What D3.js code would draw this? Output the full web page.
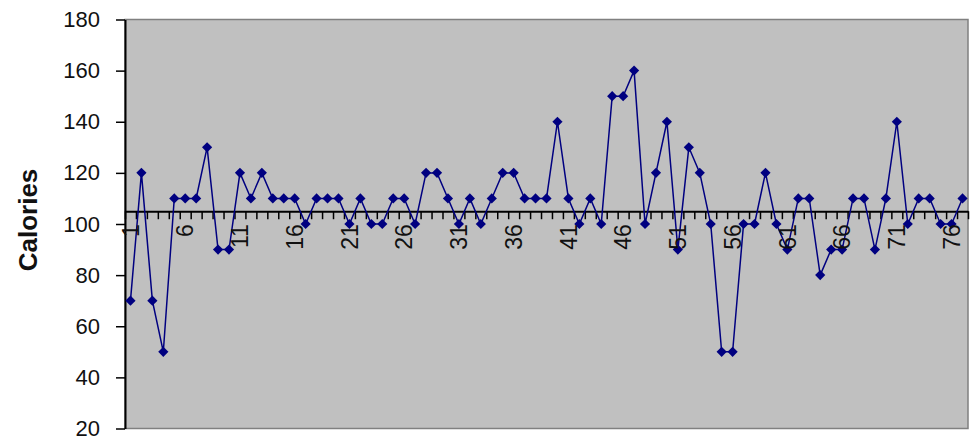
<!DOCTYPE html>
<html>
<head>
<meta charset="utf-8">
<script src="https://cdn.jsdelivr.net/npm/d3@7"></script>
<style>
  html, body { margin: 0; padding: 0; background: #ffffff; }
  svg { display: block; }
  text { font-family: "Liberation Sans", Arial, sans-serif; }
</style>
</head>
<body>
<svg id="chart" width="975" height="442"></svg>
<script>
// ---- data ----
const categories = d3.range(1, 78);
const calories = [
  70, 120, 70, 50, 110, 110, 110, 130, 90, 90,
  120, 110, 120, 110, 110, 110, 100, 110, 110, 110,
  100, 110, 100, 100, 110, 110, 100, 120, 120, 110,
  100, 110, 100, 110, 120, 120, 110, 110, 110, 140,
  110, 100, 110, 100, 150, 150, 160, 100, 120, 140,
  90, 130, 120, 100, 50, 50, 100, 100, 120, 100,
  90, 110, 110, 80, 90, 90, 110, 110, 90, 110,
  140, 100, 110, 110, 100, 100, 110
];
const xTickLabels = [1, 6, 11, 16, 21, 26, 31, 36, 41, 46, 51, 56, 61, 66, 71, 76];
const yTickLabels = [20, 40, 60, 80, 100, 120, 140, 160, 180];
const yDomain = [20, 180];
const axisCrossValue = 105;
const yTitle = "Calories";

// ---- layout ----
const svg = d3.select("#chart");
const plot = { left: 125, right: 968, top: 19.5, bottom: 428.5 };

const x = d3.scaleBand().domain(categories).range([plot.left, plot.right]).paddingInner(0).paddingOuter(0);
const xEdge = d3.scaleLinear().domain([0, categories.length]).range([plot.left, plot.right]);
const y = d3.scaleLinear().domain(yDomain).range([plot.bottom, plot.top]);
const cx = d => x(d) + x.bandwidth() / 2;

// plot background
svg.append("rect")
  .attr("x", plot.left).attr("y", plot.top)
  .attr("width", plot.right - plot.left).attr("height", plot.bottom - plot.top)
  .attr("fill", "#c0c0c0").attr("stroke", "#808080").attr("stroke-width", 1.5);

// y axis
const yAxis = svg.append("g")
  .attr("transform", `translate(${plot.left},0)`)
  .call(d3.axisLeft(y).tickValues(yTickLabels).tickSize(9).tickSizeOuter(0).tickPadding(16));
yAxis.select(".domain").attr("stroke", "#000").attr("stroke-width", 2);
yAxis.selectAll(".tick line").attr("stroke", "#000").attr("stroke-width", 1.5);
yAxis.selectAll(".tick text").attr("font-size", 22).attr("fill", "#111")
  .attr("font-family", "'Liberation Sans', Arial, sans-serif");

// x axis tick marks at category boundaries
const yCross = y(axisCrossValue);
const xTicks = svg.append("g")
  .attr("transform", `translate(0,${yCross})`)
  .call(d3.axisBottom(xEdge).tickValues(d3.range(0, categories.length + 1)).tickSize(8).tickSizeOuter(0).tickFormat(""));
xTicks.select(".domain").attr("stroke", "#000").attr("stroke-width", 2);
xTicks.selectAll(".tick line").attr("stroke", "#000").attr("stroke-width", 1.5);

// line
svg.append("path")
  .datum(calories)
  .attr("fill", "none")
  .attr("stroke", "#000080")
  .attr("stroke-width", 1.5)
  .attr("d", d3.line().x((d, i) => cx(categories[i])).y(d => y(d)));

// markers
svg.append("g").selectAll("path")
  .data(calories)
  .join("path")
  .attr("d", d3.symbol(d3.symbolSquare, 52))
  .attr("transform", (d, i) => `translate(${cx(categories[i])},${y(d)}) rotate(45)`)
  .attr("fill", "#000080");

// x tick labels (rotated)
const xLab = svg.append("g")
  .attr("transform", `translate(0,${yCross})`)
  .call(d3.axisBottom(x).tickValues(xTickLabels).tickSize(0).tickPadding(0));
xLab.select(".domain").remove();
xLab.selectAll(".tick text")
  .attr("font-size", 23)
  .attr("fill", "#111")
  .attr("font-family", "'Liberation Sans', Arial, sans-serif")
  .attr("text-anchor", "end")
  .attr("transform", "translate(0,13) rotate(-90)")
  .attr("x", 0).attr("y", 0).attr("dy", "0.36em");

// y title
svg.append("text")
  .attr("transform", `translate(28,220) rotate(-90)`)
  .attr("text-anchor", "middle")
  .attr("dominant-baseline", "central")
  .attr("font-size", 26)
  .attr("font-weight", "bold")
  .attr("fill", "#111")
  .text(yTitle);
</script>
</body>
</html>
